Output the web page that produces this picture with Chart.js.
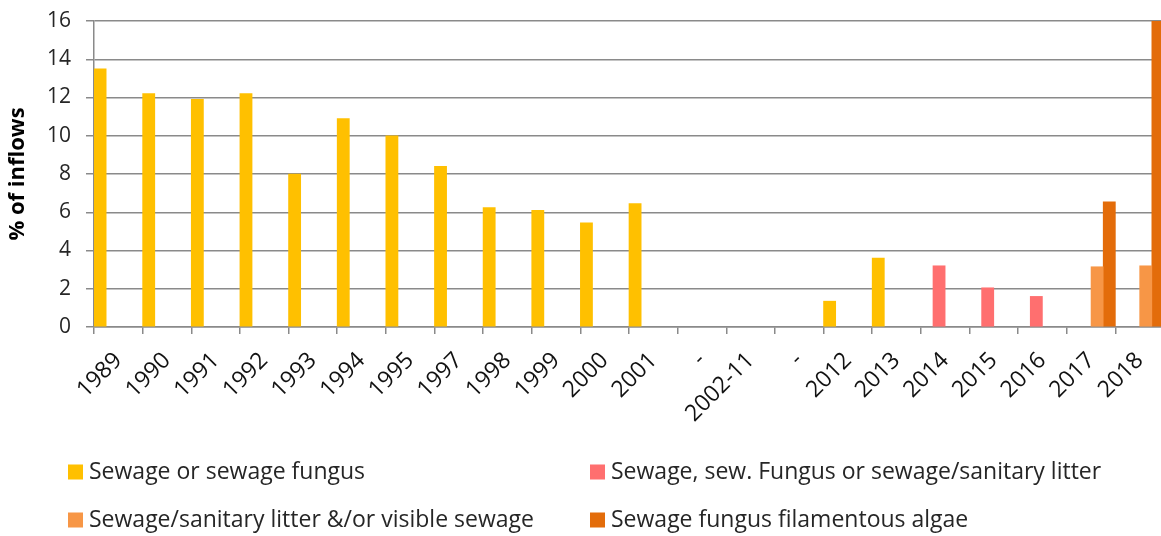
<!DOCTYPE html>
<html>
<head>
<meta charset="utf-8">
<script src="https://cdn.jsdelivr.net/npm/chart.js@4/dist/chart.umd.min.js"></script>
<style>
  html, body { margin: 0; padding: 0; background: #fff; overflow: hidden; }
  canvas { display: block; }
</style>
</head>
<body>
<canvas id="chart" width="1164" height="536"></canvas>
<script>
// categories along the x axis
const years = ['1989', '1990', '1991', '1992', '1993', '1994', '1995', '1997', '1998', '1999', '2000', '2001',
  '-', '2002-11', '-', '2012', '2013', '2014', '2015', '2016', '2017', '2018'];

// % of inflows (null = no bar)
const sewageFungus = [13.5, 12.2, 11.9, 12.2, 8.0, 10.9, 10.0, 8.4, 6.25, 6.1, 5.45, 6.45,
  null, null, null, 1.35, 3.6, null, null, null, null, null];
const sewageLitter = [null, null, null, null, null, null, null, null, null, null, null, null,
  null, null, null, null, null, 3.2, 2.05, 1.6, null, null];
const visibleSewage = [null, null, null, null, null, null, null, null, null, null, null, null,
  null, null, null, null, null, null, null, null, 3.15, 3.2];
const filamentousAlgae = [null, null, null, null, null, null, null, null, null, null, null, null,
  null, null, null, null, null, null, null, null, 6.55, 16];

const yTicks = [0, 2, 4, 6, 8, 10, 12, 14, 16];

const seriesNames = [
  'Sewage or sewage fungus',
  'Sewage, sew. Fungus or sewage/sanitary litter',
  'Sewage/sanitary litter &/or visible sewage',
  'Sewage fungus filamentous algae'
];
const seriesColors = ['#FFC000', '#FF6F6F', '#F79646', '#E36C0A'];

const FONT = '"Open Sans", "DejaVu Sans", sans-serif';
const GRID = '#8a8a8a';

// two-column legend drawn under the axis labels
const gridLegend = {
  id: 'gridLegend',
  afterDraw(chart) {
    const ctx = chart.ctx;
    const colX = [68, 590];
    const rowY = [472, 520];
    ctx.save();
    ctx.font = '23px ' + FONT;
    ctx.textBaseline = 'middle';
    ctx.textAlign = 'left';
    chart.data.datasets.forEach((ds, i) => {
      const x = colX[i % 2];
      const y = rowY[Math.floor(i / 2)];
      ctx.fillStyle = ds.backgroundColor;
      ctx.fillRect(x, y - 7.5, 15, 15);
      ctx.fillStyle = '#262626';
      ctx.fillText(ds.label, x + 21, y);
    });
    ctx.restore();
  }
};

const datasets = [sewageFungus, sewageLitter, visibleSewage, filamentousAlgae].map((values, i) => ({
  label: seriesNames[i],
  data: values,
  backgroundColor: seriesColors[i],
  borderWidth: 0,
  barPercentage: 1,
  categoryPercentage: 1
}));

new Chart(document.getElementById('chart'), {
  type: 'bar',
  data: { labels: years, datasets },
  options: {
    responsive: false,
    animation: false,
    layout: { padding: { top: 21, right: 0, bottom: 0, left: 0 } },
    plugins: {
      legend: { display: false },
      tooltip: { enabled: false }
    },
    scales: {
      x: {
        offset: true,
        afterFit(scale) {
          scale.height = 209;
          scale.paddingLeft = 0;
          scale.paddingRight = 0;
        },
        grid: {
          offset: true,
          drawOnChartArea: false,
          drawTicks: true,
          tickLength: 7,
          color: GRID,
          lineWidth: 1.5
        },
        border: { color: GRID, width: 1.5 },
        ticks: {
          autoSkip: false,
          maxRotation: 45,
          minRotation: 45,
          padding: 13,
          color: '#111',
          font: { family: FONT, size: 23 }
        }
      },
      y: {
        min: 0,
        max: 16,
        afterFit(scale) {
          scale.width = 94;
          scale.paddingTop = 0;
          scale.paddingBottom = 0;
        },
        afterBuildTicks(scale) { scale.ticks = yTicks.map(v => ({ value: v })); },
        grid: {
          color: GRID,
          lineWidth: 1.5,
          tickLength: 8
        },
        border: { color: GRID, width: 1.5 },
        ticks: {
          padding: 15,
          color: '#262626',
          font: { family: FONT, size: 21 }
        },
        title: {
          display: true,
          text: '% of inflows',
          color: '#000',
          padding: { top: 5, bottom: 0 },
          font: { family: FONT, size: 22, weight: 'bold' }
        }
      }
    }
  },
  plugins: [gridLegend]
});
</script>
</body>
</html>
